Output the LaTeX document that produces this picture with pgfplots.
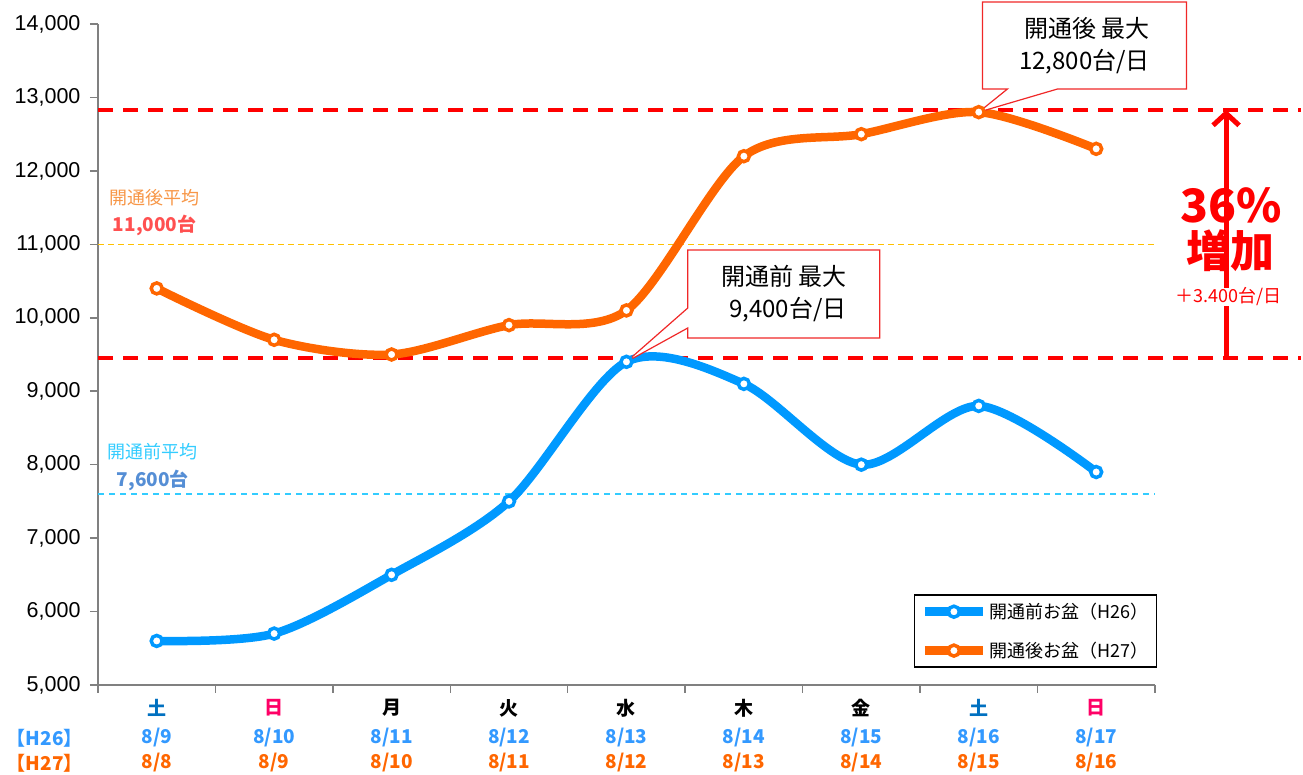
\documentclass[border=0pt]{standalone}
\usepackage{pgfplots}
\pgfplotsset{compat=1.18}
\usepackage{fontspec}
\setmainfont{Liberation Sans}
\newfontfamily\jp{Noto Sans CJK JP}
\usetikzlibrary{shapes.callouts,arrows.meta}

\definecolor{ser1}{RGB}{0,153,255}
\definecolor{ser2}{RGB}{255,102,0}
\definecolor{sat}{RGB}{0,112,192}
\definecolor{sun}{RGB}{255,0,102}
\definecolor{d26}{RGB}{51,153,255}
\definecolor{d27}{RGB}{255,102,0}
\definecolor{avgA}{RGB}{247,150,70}
\definecolor{avgAv}{RGB}{255,80,80}
\definecolor{avgB}{RGB}{51,204,255}
\definecolor{avgBv}{RGB}{85,142,213}
\definecolor{lineA}{RGB}{255,192,0}
\definecolor{calred}{RGB}{240,40,40}

% one column of day labels: x, weekday colour, weekday, H26 date, H27 date
\newcommand{\daylab}[5]{%
  \node[lab, text=#2] at (axis cs:#1,4687) {#3};
  \node[lab, text=d26] at (axis cs:#1,4280) {#4};
  \node[lab, text=d27] at (axis cs:#1,3940) {#5};
}

\begin{document}
\begin{tikzpicture}[lab/.style={font=\jp\bfseries\fontsize{19}{22}\selectfont, inner sep=0pt}]
\useasboundingbox (0,0) rectangle (1303pt,775pt);
\begin{axis}[
    at={(98pt,90pt)}, anchor=south west,
    scale only axis, width=1057pt, height=661pt,
    xmin=-0.5, xmax=8.5, ymin=5000, ymax=14000,
    axis x line*=bottom, axis y line*=left,
    axis line style={draw=gray, line width=1.5pt},
    xtick={-0.5,0.5,...,8.5}, xticklabels={},
    ytick={5000,6000,...,14000},
    scaled y ticks=false,
    tick align=outside, major tick length=8pt,
    tick style={draw=gray, line width=1.5pt},
    yticklabel style={font=\fontsize{21.5}{24}\selectfont, xshift=-6pt,
        /pgf/number format/assume math mode=true,
        /pgf/number format/1000 sep={,}},
    clip=false,
    legend style={at={(rel axis cs:1.002,0.026)}, anchor=south east,
        draw=black, line width=1.5pt,
        font=\jp\fontsize{18}{22}\selectfont,
        row sep=18pt, inner sep=6pt},
    legend cell align=left,
    legend image code/.code={%
        \draw[#1, mark repeat=2, mark phase=2]
            plot coordinates {(0pt,0pt) (29pt,0pt) (58pt,0pt)};},
]
% reference lines
\draw[lineA, line width=1.5pt, dash pattern=on 6pt off 4pt]
    (axis cs:-0.5,11000) -- (axis cs:8.5,11000);
\draw[avgB, line width=1.5pt, dash pattern=on 6pt off 5pt]
    (axis cs:-0.5,7600) -- (axis cs:8.5,7600);
\draw[red, line width=3.5pt, dash pattern=on 15pt off 10pt]
    (axis cs:-0.5,9450) -- (axis cs:9.74,9450);
\draw[red, line width=3.5pt, dash pattern=on 15pt off 10pt]
    (axis cs:-0.5,12830) -- (axis cs:9.74,12830);

\addplot[ser1, line width=8.5pt, smooth, tension=0.5,
    mark=*, mark size=5.5pt, mark options={fill=white, draw=ser1, line width=3.5pt}]
    coordinates {(0,5600) (1,5700) (2,6500) (3,7500) (4,9400)
                 (5,9100) (6,8000) (7,8800) (8,7900)};
\addlegendentry{開通前お盆（H26）}
\addplot[ser2, line width=8.5pt, smooth, tension=0.5,
    mark=*, mark size=5.5pt, mark options={fill=white, draw=ser2, line width=3.5pt}]
    coordinates {(0,10400) (1,9700) (2,9500) (3,9900) (4,10100)
                 (5,12200) (6,12500) (7,12800) (8,12300)};
\addlegendentry{開通後お盆（H27）}

% averages
\node[anchor=west, text=avgA, font=\jp\fontsize{18}{22}\selectfont, inner sep=0pt]
    at (axis cs:-0.40,11631) {開通後平均};
\node[anchor=west, text=avgAv, font=\jp\bfseries\fontsize{19}{22}\selectfont, inner sep=0pt]
    at (axis cs:-0.375,11263) {11,000台};
\node[anchor=west, text=avgB, font=\jp\fontsize{18}{22}\selectfont, inner sep=0pt]
    at (axis cs:-0.417,8172) {開通前平均};
\node[anchor=west, text=avgBv, font=\jp\bfseries\fontsize{19}{22}\selectfont, inner sep=0pt]
    at (axis cs:-0.34,7791) {7,600台};

% callouts
\node[rectangle callout, draw=calred, line width=1.2pt, fill=white,
    callout absolute pointer={(axis cs:4,9400)}, callout pointer width=20pt,
    minimum width=192pt, minimum height=88pt, align=right,
    font=\jp\fontsize{24}{32}\selectfont]
    at (axis cs:5.34,10324) {開通前 最大\\9,400台/日};
\node[rectangle callout, draw=calred, line width=1.2pt, fill=white,
    callout absolute pointer={(axis cs:7,12800)}, callout pointer width=50pt,
    minimum width=204pt, minimum height=87pt, align=right,
    font=\jp\fontsize{24}{32}\selectfont]
    at (axis cs:7.90,13707) {開通後 最大\\12,800台/日};

% increase arrow
\draw[red, line width=5pt, -{Straight Barb[length=12pt, width=26pt]}]
    (axis cs:9.106,9450) -- (axis cs:9.106,12830);
\node[text=red, font=\jp\bfseries\fontsize{46}{46}\selectfont, inner sep=0pt]
    at (axis cs:9.15,11530) {36\%};
\node[text=red, font=\jp\bfseries\fontsize{44}{44}\selectfont, inner sep=0pt]
    at (axis cs:9.14,10910) {増加};
\node[text=red, font=\jp\fontsize{18}{20}\selectfont, inner sep=0pt, fill=white]
    at (axis cs:9.13,10286) {＋3.400台/日};

% category labels
\daylab{0}{sat}{土}{8/9}{8/8}
\daylab{1}{sun}{日}{8/10}{8/9}
\daylab{2}{black}{月}{8/11}{8/10}
\daylab{3}{black}{火}{8/12}{8/11}
\daylab{4}{black}{水}{8/13}{8/12}
\daylab{5}{black}{木}{8/14}{8/13}
\daylab{6}{black}{金}{8/15}{8/14}
\daylab{7}{sat}{土}{8/16}{8/15}
\daylab{8}{sun}{日}{8/17}{8/16}
\node[lab, text=d26] at (axis cs:-0.954,4280) {【H26】};
\node[lab, text=d27] at (axis cs:-0.954,3940) {【H27】};
\end{axis}
\end{tikzpicture}
\end{document}
